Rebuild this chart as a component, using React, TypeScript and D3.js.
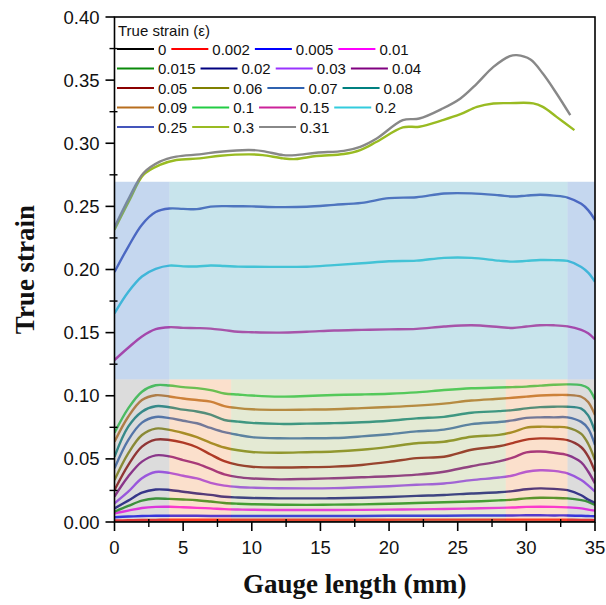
import React from 'react';
import * as d3 from 'd3';

// ---------- data ----------
const gaugeX = [0, 1, 2, 3, 4, 5, 6, 7, 8, 9, 10, 12, 14, 16, 18, 20, 22, 24, 26, 28, 29, 30, 31, 32, 33, 34, 34.5, 35];

const strainLabels = ['0', '0.002', '0.005', '0.01', '0.015', '0.02', '0.03', '0.04', '0.05', '0.06', '0.07', '0.08', '0.09', '0.1', '0.15', '0.2', '0.25', '0.3', '0.31'];
const strainColors = ['#000000', '#ff0000', '#0000ff', '#ff00ff', '#0a8a0a', '#000080', '#9933ff', '#800080', '#8b0000', '#808000', '#2f62b0', '#008080', '#b86e1e', '#22cc44', '#cc2299', '#33ccdd', '#4455bb', '#99bb22', '#888888'];

const s0 = [0.0003, 0.0003, 0.0003, 0.0003, 0.0003, 0.0003, 0.0003, 0.0003, 0.0003, 0.0003, 0.0003, 0.0003, 0.0003, 0.0003, 0.0003, 0.0003, 0.0003, 0.0003, 0.0003, 0.0003, 0.0003, 0.0003, 0.0003, 0.0003, 0.0003, 0.0003, 0.0003, 0.0003];
const s0002 = [0.0012, 0.0014, 0.0016, 0.0017, 0.0018, 0.0018, 0.0018, 0.0018, 0.0018, 0.0018, 0.0018, 0.0018, 0.0018, 0.0018, 0.0018, 0.0018, 0.0019, 0.0019, 0.0019, 0.0019, 0.0019, 0.0019, 0.0019, 0.0019, 0.0018, 0.0017, 0.0016, 0.0015];
const s0005 = [0.0038, 0.0043, 0.0047, 0.0049, 0.005, 0.0049, 0.0049, 0.0048, 0.0048, 0.0048, 0.0048, 0.0048, 0.0048, 0.0048, 0.0048, 0.0049, 0.0049, 0.005, 0.0051, 0.0052, 0.0052, 0.0053, 0.0053, 0.0052, 0.0052, 0.0049, 0.0047, 0.0046];
const s001 = [0.0069, 0.009, 0.0111, 0.012, 0.0121, 0.0117, 0.0112, 0.0108, 0.0102, 0.0099, 0.0097, 0.0095, 0.0095, 0.0095, 0.0096, 0.0098, 0.01, 0.0103, 0.0107, 0.0112, 0.0115, 0.012, 0.0121, 0.012, 0.0116, 0.0108, 0.0098, 0.009];
const s0015 = [0.0082, 0.0127, 0.0169, 0.0186, 0.0183, 0.0178, 0.0172, 0.0162, 0.0151, 0.0145, 0.0141, 0.0137, 0.0136, 0.0138, 0.014, 0.0145, 0.015, 0.0156, 0.0162, 0.0171, 0.0177, 0.0187, 0.0192, 0.0191, 0.0187, 0.0173, 0.016, 0.0135];
const s002 = [0.0108, 0.0169, 0.0232, 0.0257, 0.0254, 0.024, 0.0226, 0.0215, 0.02, 0.0194, 0.019, 0.0187, 0.0187, 0.0188, 0.0192, 0.0198, 0.0207, 0.0214, 0.0226, 0.0236, 0.0245, 0.0259, 0.0266, 0.0262, 0.0252, 0.0212, 0.0178, 0.0153];
const s003 = [0.0148, 0.024, 0.0346, 0.0396, 0.0389, 0.0366, 0.0345, 0.031, 0.0288, 0.0277, 0.0272, 0.0267, 0.0266, 0.0268, 0.0275, 0.0283, 0.0295, 0.0305, 0.0332, 0.0352, 0.0368, 0.0398, 0.041, 0.0405, 0.0385, 0.0332, 0.029, 0.0241];
const s004 = [0.0201, 0.036, 0.0478, 0.0528, 0.052, 0.049, 0.0462, 0.042, 0.0378, 0.0355, 0.0345, 0.0338, 0.0341, 0.0347, 0.0354, 0.0362, 0.0375, 0.0398, 0.0442, 0.048, 0.051, 0.0552, 0.0558, 0.0548, 0.053, 0.0472, 0.04, 0.0306];
const s005 = [0.0253, 0.0451, 0.0597, 0.0652, 0.065, 0.0628, 0.0592, 0.0535, 0.0482, 0.0452, 0.0438, 0.0432, 0.0434, 0.0439, 0.0452, 0.0476, 0.0506, 0.0517, 0.0572, 0.06, 0.0625, 0.0653, 0.0662, 0.066, 0.0648, 0.0592, 0.052, 0.0399];
const s006 = [0.0333, 0.0544, 0.0689, 0.074, 0.073, 0.0705, 0.0672, 0.0627, 0.059, 0.0568, 0.0555, 0.0549, 0.0553, 0.0558, 0.0572, 0.0595, 0.0624, 0.0636, 0.0675, 0.069, 0.0712, 0.0748, 0.0755, 0.0753, 0.0748, 0.0698, 0.062, 0.0491];
const s007 = [0.0425, 0.0649, 0.0787, 0.0832, 0.0823, 0.0802, 0.0782, 0.0745, 0.0712, 0.069, 0.0672, 0.0663, 0.0663, 0.0665, 0.0678, 0.0695, 0.0718, 0.0732, 0.0775, 0.0792, 0.0805, 0.0825, 0.0829, 0.0829, 0.0829, 0.0793, 0.074, 0.061];
const s008 = [0.0517, 0.0755, 0.0874, 0.0917, 0.0909, 0.089, 0.0875, 0.085, 0.0808, 0.0795, 0.0785, 0.0777, 0.0779, 0.0783, 0.079, 0.0802, 0.0821, 0.0833, 0.0865, 0.0878, 0.0886, 0.09, 0.091, 0.0913, 0.0913, 0.0898, 0.0845, 0.0716];
const s009 = [0.0636, 0.0834, 0.0966, 0.1004, 0.0994, 0.0978, 0.0966, 0.0953, 0.0918, 0.0902, 0.0893, 0.0888, 0.089, 0.0893, 0.0902, 0.0911, 0.0922, 0.0938, 0.0962, 0.0976, 0.0984, 0.0993, 0.1002, 0.1006, 0.1006, 0.0992, 0.095, 0.0847];
const s01 = [0.0707, 0.09, 0.1032, 0.1083, 0.1081, 0.1068, 0.106, 0.1045, 0.1018, 0.101, 0.1002, 0.0993, 0.0998, 0.1006, 0.101, 0.1016, 0.1027, 0.1045, 0.1059, 0.1065, 0.1068, 0.1072, 0.108, 0.1087, 0.109, 0.1084, 0.106, 0.097];
const s015 = [0.1283, 0.138, 0.147, 0.1528, 0.1543, 0.1538, 0.1536, 0.1532, 0.152, 0.1507, 0.1503, 0.15, 0.1507, 0.1517, 0.1522, 0.1526, 0.153, 0.1548, 0.1558, 0.1545, 0.1537, 0.1548, 0.1558, 0.1558, 0.155, 0.1522, 0.1495, 0.1447];
const s02 = [0.1653, 0.1822, 0.1945, 0.2005, 0.2031, 0.2025, 0.2024, 0.2032, 0.2028, 0.2023, 0.2022, 0.2021, 0.2022, 0.2035, 0.2049, 0.2065, 0.207, 0.2092, 0.2092, 0.207, 0.2062, 0.2068, 0.2075, 0.2074, 0.2068, 0.202, 0.1975, 0.1903];
const s025 = [0.198, 0.218, 0.2355, 0.2455, 0.2483, 0.248, 0.2478, 0.2498, 0.2502, 0.2501, 0.25, 0.2494, 0.2497, 0.2512, 0.2528, 0.2565, 0.2572, 0.2602, 0.2603, 0.2588, 0.2578, 0.2585, 0.2592, 0.2585, 0.257, 0.252, 0.247, 0.2392];

const x030 = [0, 1.1, 2.1, 3.3, 4.5, 6.2, 7.7, 9.8, 10.8, 12.3, 13.2, 14.7, 16.7, 17.9, 19.1, 21, 22.2, 23.9, 25.2, 26.4, 27.6, 28.8, 30.5, 31.2, 32.2, 33.5];
const s030 = [0.2315, 0.255, 0.2749, 0.2828, 0.2867, 0.288, 0.2901, 0.2912, 0.2906, 0.288, 0.2875, 0.2899, 0.2915, 0.2946, 0.3012, 0.3126, 0.3131, 0.3183, 0.323, 0.3288, 0.3315, 0.3318, 0.3316, 0.3288, 0.3209, 0.3104];
const x031 = [0, 1.1, 2.1, 3.3, 4.5, 6.2, 7.7, 9.8, 10.8, 12.3, 13.2, 14.7, 16.7, 17.9, 19.1, 21, 22.2, 23.9, 25.2, 26.4, 27.6, 28.8, 29.3, 30.3, 31.2, 32.2, 33.2];
const s031 = [0.2335, 0.2576, 0.2762, 0.2854, 0.2894, 0.2912, 0.2933, 0.2947, 0.2938, 0.2906, 0.2906, 0.2925, 0.294, 0.2972, 0.3038, 0.3183, 0.3196, 0.3275, 0.3355, 0.3473, 0.3605, 0.369, 0.3698, 0.3663, 0.3552, 0.3394, 0.3222];

const yTickValues = [0, 0.05, 0.1, 0.15, 0.2, 0.25, 0.3, 0.35, 0.4];
const yTickLabels = ['0.00', '0.05', '0.10', '0.15', '0.20', '0.25', '0.30', '0.35', '0.40'];
const xTickValues = [0, 5, 10, 15, 20, 25, 30, 35];
const xTickLabels = ['0', '5', '10', '15', '20', '25', '30', '35'];

// shaded zones
const lowerZoneEdges = [0, 4, 8.5, 28.5, 33, 35];
const lowerZoneColors = ['#9b9b9b', '#f4a66d', '#b2c384', '#f4a66d', '#9b9b9b'];
const lowerZoneRange = [0, 0.113];
const upperZoneEdges = [0, 4, 33, 35];
const upperZoneColors = ['#598dd1', '#62b2c9', '#598dd1'];
const upperZoneRange = [0.113, 0.2695];

// ---------- layout ----------
const W = 606, H = 605;
const L = 114.5, R = 595, T = 17, B = 522;

const x = d3.scaleLinear().domain([0, 35]).range([L, R]);
const y = d3.scaleLinear().domain([0, 0.4]).range([B, T]);

const gridSeries = [s0, s0002, s0005, s001, s0015, s002, s003, s004, s005, s006, s007, s008, s009, s01, s015, s02, s025];

function textW(s: string, size: number) {
  let w = 0;
  for (const c of s) w += c === '.' ? 0.278 : 0.556;
  return w * size;
}

export default function App() {
  const line = d3.line<[number, number]>()
    .x(d => x(d[0]))
    .y(d => y(d[1]))
    .curve(d3.curveCatmullRom.alpha(0.5));

  const series: { pts: [number, number][]; color: string }[] = gridSeries.map((vals, i) => ({
    pts: gaugeX.map((gx, j) => [gx, vals[j]] as [number, number]),
    color: strainColors[i],
  }));
  series.push({ pts: x030.map((gx, j) => [gx, s030[j]] as [number, number]), color: strainColors[17] });
  series.push({ pts: x031.map((gx, j) => [gx, s031[j]] as [number, number]), color: strainColors[18] });

  const zones: { x0: number; x1: number; y0: number; y1: number; c: string }[] = [];
  lowerZoneColors.forEach((c, i) => zones.push({ x0: lowerZoneEdges[i], x1: lowerZoneEdges[i + 1], y0: lowerZoneRange[0], y1: lowerZoneRange[1], c }));
  upperZoneColors.forEach((c, i) => zones.push({ x0: upperZoneEdges[i], x1: upperZoneEdges[i + 1], y0: upperZoneRange[0], y1: upperZoneRange[1], c }));

  // legend flow layout
  const legFont = 15;
  const rowYs = [49, 68.5, 88, 107.5, 127];
  const legendItems: { lx: number; ly: number; tx: number; label: string; color: string }[] = [];
  for (let r = 0; r < 5; r++) {
    let cx = 117;
    for (let k = 0; k < 4; k++) {
      const idx = r * 4 + k;
      if (idx >= strainLabels.length) break;
      legendItems.push({ lx: cx, ly: rowYs[r], tx: cx + 41, label: strainLabels[idx], color: strainColors[idx] });
      cx = cx + 41 + textW(strainLabels[idx], legFont) + 5;
    }
  }

  const yMinor = d3.range(0.025, 0.4, 0.05);
  const xMinor = d3.range(2.5, 35, 5);
  const sans = '"Liberation Sans", Arial, sans-serif';
  const serif = '"Liberation Serif", "Times New Roman", serif';

  return (
    <svg width={W} height={H} style={{ position: 'absolute', left: 0, top: 0, background: '#fff' }}>
      <defs>
        <clipPath id="plotclip"><rect x={L} y={T} width={R - L} height={B - T} /></clipPath>
      </defs>
      <g clipPath="url(#plotclip)">
        {series.map((s, i) => (
          <path key={i} d={line(s.pts) || ''} fill="none" stroke={s.color} strokeWidth={2.4} strokeLinejoin="round" />
        ))}
        {zones.map((z, i) => (
          <rect key={i} x={x(z.x0)} y={y(z.y1)} width={x(z.x1) - x(z.x0)} height={y(z.y0) - y(z.y1)} fill={z.c} fillOpacity={0.35} />
        ))}
      </g>

      {/* frame */}
      <rect x={L} y={T} width={R - L} height={B - T} fill="none" stroke="#000" strokeWidth={1.6} />

      {/* y ticks */}
      {yTickValues.map((v, i) => (
        <g key={i}>
          <line x1={L - 9} x2={L} y1={y(v)} y2={y(v)} stroke="#000" strokeWidth={1.6} />
          <text x={L - 15} y={y(v) + 6.5} fontFamily={sans} fontSize={18.5} textAnchor="end" fill="#111">{yTickLabels[i]}</text>
        </g>
      ))}
      {yMinor.map((v, i) => (
        <line key={'ym' + i} x1={L - 5} x2={L + 3} y1={y(v)} y2={y(v)} stroke="#000" strokeWidth={1.4} />
      ))}

      {/* x ticks */}
      {xTickValues.map((v, i) => (
        <g key={i}>
          <line x1={x(v)} x2={x(v)} y1={B} y2={B + 9} stroke="#000" strokeWidth={1.6} />
          <text x={x(v)} y={B + 32} fontFamily={sans} fontSize={18.5} textAnchor="middle" fill="#111">{xTickLabels[i]}</text>
        </g>
      ))}
      {xMinor.map((v, i) => (
        <line key={'xm' + i} x1={x(v)} x2={x(v)} y1={B - 3} y2={B + 5} stroke="#000" strokeWidth={1.4} />
      ))}

      {/* axis titles */}
      <text x={(L + R) / 2} y={593} fontFamily={serif} fontWeight="bold" fontSize={27} textAnchor="middle" fill="#111">Gauge length (mm)</text>
      <text transform={`translate(34, ${(T + B) / 2}) rotate(-90)`} fontFamily={serif} fontWeight="bold" fontSize={27} textAnchor="middle" fill="#111">True strain</text>

      {/* legend */}
      <text x={118} y={36} fontFamily={sans} fontSize={legFont} fill="#111">True strain (ε)</text>
      {legendItems.map((it, i) => (
        <g key={'lg' + i}>
          <line x1={it.lx} x2={it.lx + 37} y1={it.ly} y2={it.ly} stroke={it.color} strokeWidth={2.2} />
          <text x={it.tx} y={it.ly + 5.5} fontFamily={sans} fontSize={legFont} fill="#111">{it.label}</text>
        </g>
      ))}
    </svg>
  );
}
